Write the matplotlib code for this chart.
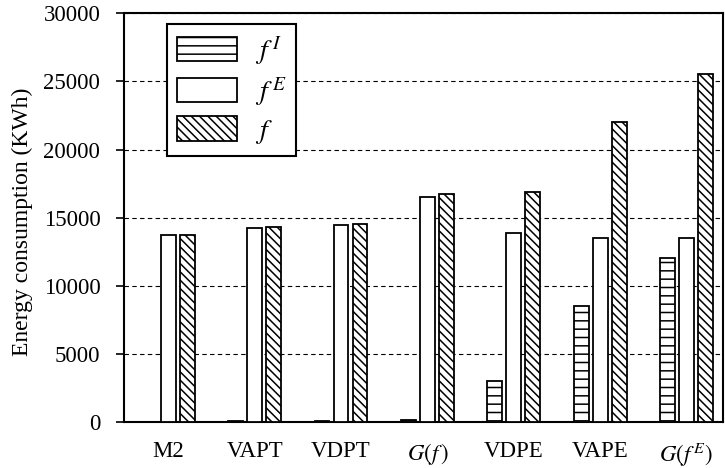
import matplotlib
matplotlib.use("Agg")
import matplotlib.pyplot as plt
import numpy as np

plt.rcParams['font.family'] = ['Liberation Serif', 'DejaVu Serif']
plt.rcParams['mathtext.fontset'] = 'stix'
plt.rcParams['hatch.linewidth'] = 1.1

categories = ['M2', 'VAPT', 'VDPT', '$G(f\\,)$', 'VDPE', 'VAPE', '$G(f^{\\,E})$']
f_I = [0, 50, 50, 180, 3000, 8500, 12050]
f_E = [13700, 14250, 14450, 16550, 13900, 13520, 13470]
f_all = [13700, 14300, 14500, 16700, 16900, 22000, 25550]
series_labels = ['$f^{\\,I}\\;\\;$', '$f^{\\,E}\\;\\;$', '$f$']

fig = plt.figure(figsize=(7.25, 4.68), dpi=100)
ax = fig.add_axes([0.171, 0.0983, 0.826, 0.8733])

x = np.arange(len(categories))
w = 0.17
step = 0.22
common = dict(edgecolor='black', linewidth=1.3, facecolor='white', zorder=3)
ax.bar(x - step, f_I, w, hatch='--', label=series_labels[0], **common)
ax.bar(x, f_E, w, label=series_labels[1], **common)
ax.bar(x + step, f_all, w, hatch='\\\\\\\\', label=series_labels[2], **common)

ax.set_xlim(-0.514, 6.42)
ax.set_ylim(0, 30000)
ax.set_yticks(np.arange(0, 30001, 5000))
ax.set_xticks(x)
ax.set_xticklabels(categories, fontsize=16.5)
ax.tick_params(axis='x', length=0, pad=14)
ax.tick_params(axis='y', direction='out', length=6, width=1.2, pad=11, labelsize=16.5)
ax.set_axisbelow(True)
ax.yaxis.grid(True, linestyle=(0, (4, 3)), color='black', linewidth=0.8)
for s in ax.spines.values():
    s.set_linewidth(1.5)

ax.set_ylabel('Energy consumption (KWh)', fontsize=17)
ax.yaxis.set_label_coords(-0.152, 0.49)

leg = ax.legend(loc='upper left', bbox_to_anchor=(0.072, 0.974), fontsize=20,
                handlelength=2.16, handleheight=0.97, labelspacing=0.3,
                handletextpad=0.65, borderpad=0.35, borderaxespad=0,
                fancybox=False, framealpha=1, edgecolor='black')
leg.get_frame().set_linewidth(1.5)
leg.set_zorder(5)

fig.savefig('out.png', dpi=100)
